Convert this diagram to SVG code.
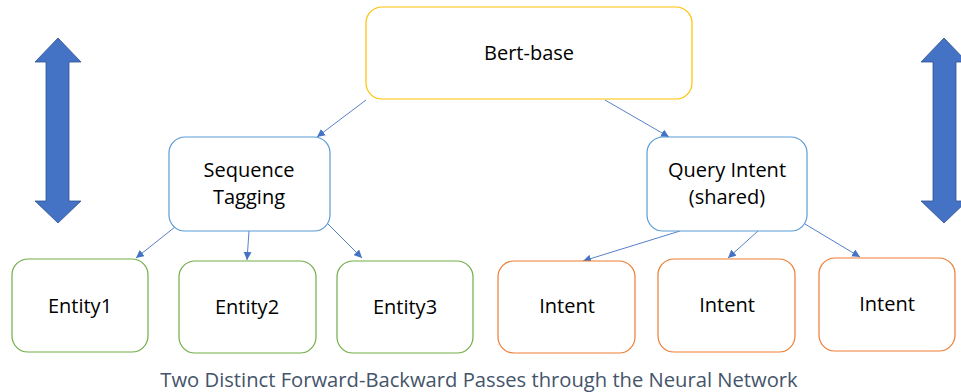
<svg xmlns="http://www.w3.org/2000/svg" width="961" height="392" viewBox="0 0 961 392">
<defs>
<style>
.lbl{font-family:"Open Sans","Noto Sans","Liberation Sans",sans-serif;font-size:20px;fill:#000;text-anchor:middle}
.cap{font-family:"Open Sans","Noto Sans","Liberation Sans",sans-serif;font-size:20.2px;fill:#44546A;text-anchor:middle}
.box{fill:#fff;stroke-width:1.2}
.yel{stroke:#FFC000}
.blu{stroke:#5B9BD5}
.grn{stroke:#70AD47}
.org{stroke:#ED7D31}
.con{stroke:#4472C4;stroke-width:0.9;fill:none;marker-end:url(#ah)}
.big{fill:#4472C4;stroke:#2F528F;stroke-width:0.8}
</style>
<marker id="ah" viewBox="0 0 10 10" refX="10" refY="5" markerWidth="8" markerHeight="8" markerUnits="userSpaceOnUse" orient="auto">
<path d="M0,0 L10,5 L0,10 z" fill="#4472C4"/>
</marker>
</defs>
<rect width="961" height="392" fill="#fff"/>
<g id="arrow-left">
<path class="big" d="M58,38 L81,62 L69,62 L69,201 L81,201 L58,223 L35,201 L46,201 L46,62 L35,62 z"/>
</g>
<g id="arrow-right">
<path class="big" d="M944,38 L967,62 L956,62 L956,201 L967,201 L944,223 L921,201 L933,201 L933,62 L921,62 z"/>
</g>
<g id="connectors">
<line class="con" x1="366" y1="100" x2="317" y2="137"/>
<line class="con" x1="605" y1="100" x2="669" y2="137"/>
<line class="con" x1="180" y1="223" x2="136" y2="258"/>
<line class="con" x1="249" y1="231" x2="247" y2="260"/>
<line class="con" x1="328" y1="224" x2="362" y2="258"/>
<line class="con" x1="680" y1="231" x2="583" y2="261"/>
<line class="con" x1="758" y1="231" x2="728" y2="258"/>
<line class="con" x1="805" y1="224" x2="860" y2="257"/>
</g>
<g id="bert-base">
<rect class="box yel" x="366" y="7" width="326" height="92" rx="16"/>
<text class="lbl" x="529" y="60">Bert-base</text>
</g>
<g id="sequence-tagging">
<rect class="box blu" x="169" y="137" width="161" height="94" rx="16"/>
<text class="lbl" x="249" y="177">Sequence</text>
<text class="lbl" x="249" y="204">Tagging</text>
</g>
<g id="query-intent">
<rect class="box blu" x="647" y="137" width="160" height="94" rx="16"/>
<text class="lbl" x="727" y="177">Query Intent</text>
<text class="lbl" x="727" y="204">(shared)</text>
</g>
<g id="entity1">
<rect class="box grn" x="12" y="259" width="136" height="93" rx="16"/>
<text class="lbl" x="80" y="313">Entity1</text>
</g>
<g id="entity2">
<rect class="box grn" x="179" y="261" width="137" height="92" rx="16"/>
<text class="lbl" x="247" y="314">Entity2</text>
</g>
<g id="entity3">
<rect class="box grn" x="337" y="261" width="136" height="92" rx="16"/>
<text class="lbl" x="405" y="314">Entity3</text>
</g>
<g id="intent1">
<rect class="box org" x="498" y="261" width="137" height="92" rx="16"/>
<text class="lbl" x="567" y="313">Intent</text>
</g>
<g id="intent2">
<rect class="box org" x="658" y="259" width="137" height="93" rx="16"/>
<text class="lbl" x="727" y="312">Intent</text>
</g>
<g id="intent3">
<rect class="box org" x="819" y="258" width="136" height="93" rx="16"/>
<text class="lbl" x="887" y="311">Intent</text>
</g>
<g id="caption">
<text class="cap" x="479" y="387">Two Distinct Forward-Backward Passes through the Neural Network</text>
</g>
</svg>
